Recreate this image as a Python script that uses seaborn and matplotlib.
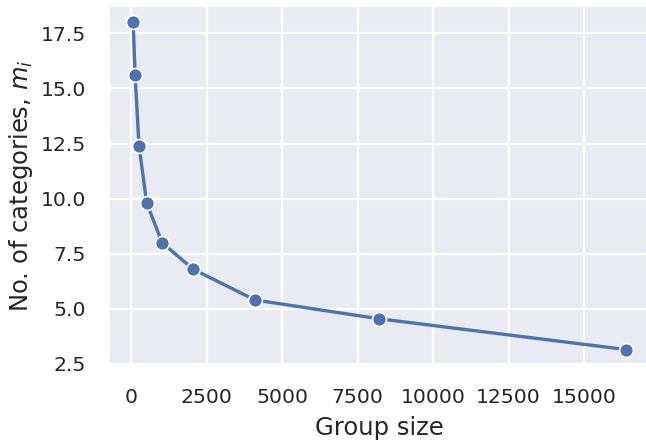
import matplotlib
matplotlib.use("Agg")
import matplotlib.pyplot as plt
from matplotlib.ticker import MultipleLocator
import seaborn as sns
import pandas as pd

group_size = [64, 128, 256, 512, 1024, 2048, 4096, 8192, 16384]
n_categories = [18.0, 15.62, 12.41, 9.8, 8.0, 6.8, 5.4, 4.55, 3.15]

df = pd.DataFrame({"Group size": group_size, "m": n_categories})

sns.set_theme(style="darkgrid", font_scale=1.4,
              rc={"grid.linewidth": 1.6,
                  "xtick.labelsize": 14.7, "ytick.labelsize": 14.7,
                  "xtick.major.pad": 10.2, "ytick.major.pad": 10.2,
                  "axes.labelsize": 17.5})
fig = plt.figure(figsize=(6.46, 4.43), dpi=100)
# axes run a little past the right edge, as in the reference crop
ax = fig.add_axes([0.168, 0.174, 0.839, 0.8125])
sns.lineplot(data=df, x="Group size", y="m", marker="o", markersize=10,
             linewidth=2.4, markeredgewidth=1.2, ax=ax)
ax.xaxis.set_major_locator(MultipleLocator(2500))
ax.set_xlabel("Group size", labelpad=6)
ax.set_ylabel("No. of categories, $m_i$", labelpad=4)
plt.savefig("out.png", dpi=100)
